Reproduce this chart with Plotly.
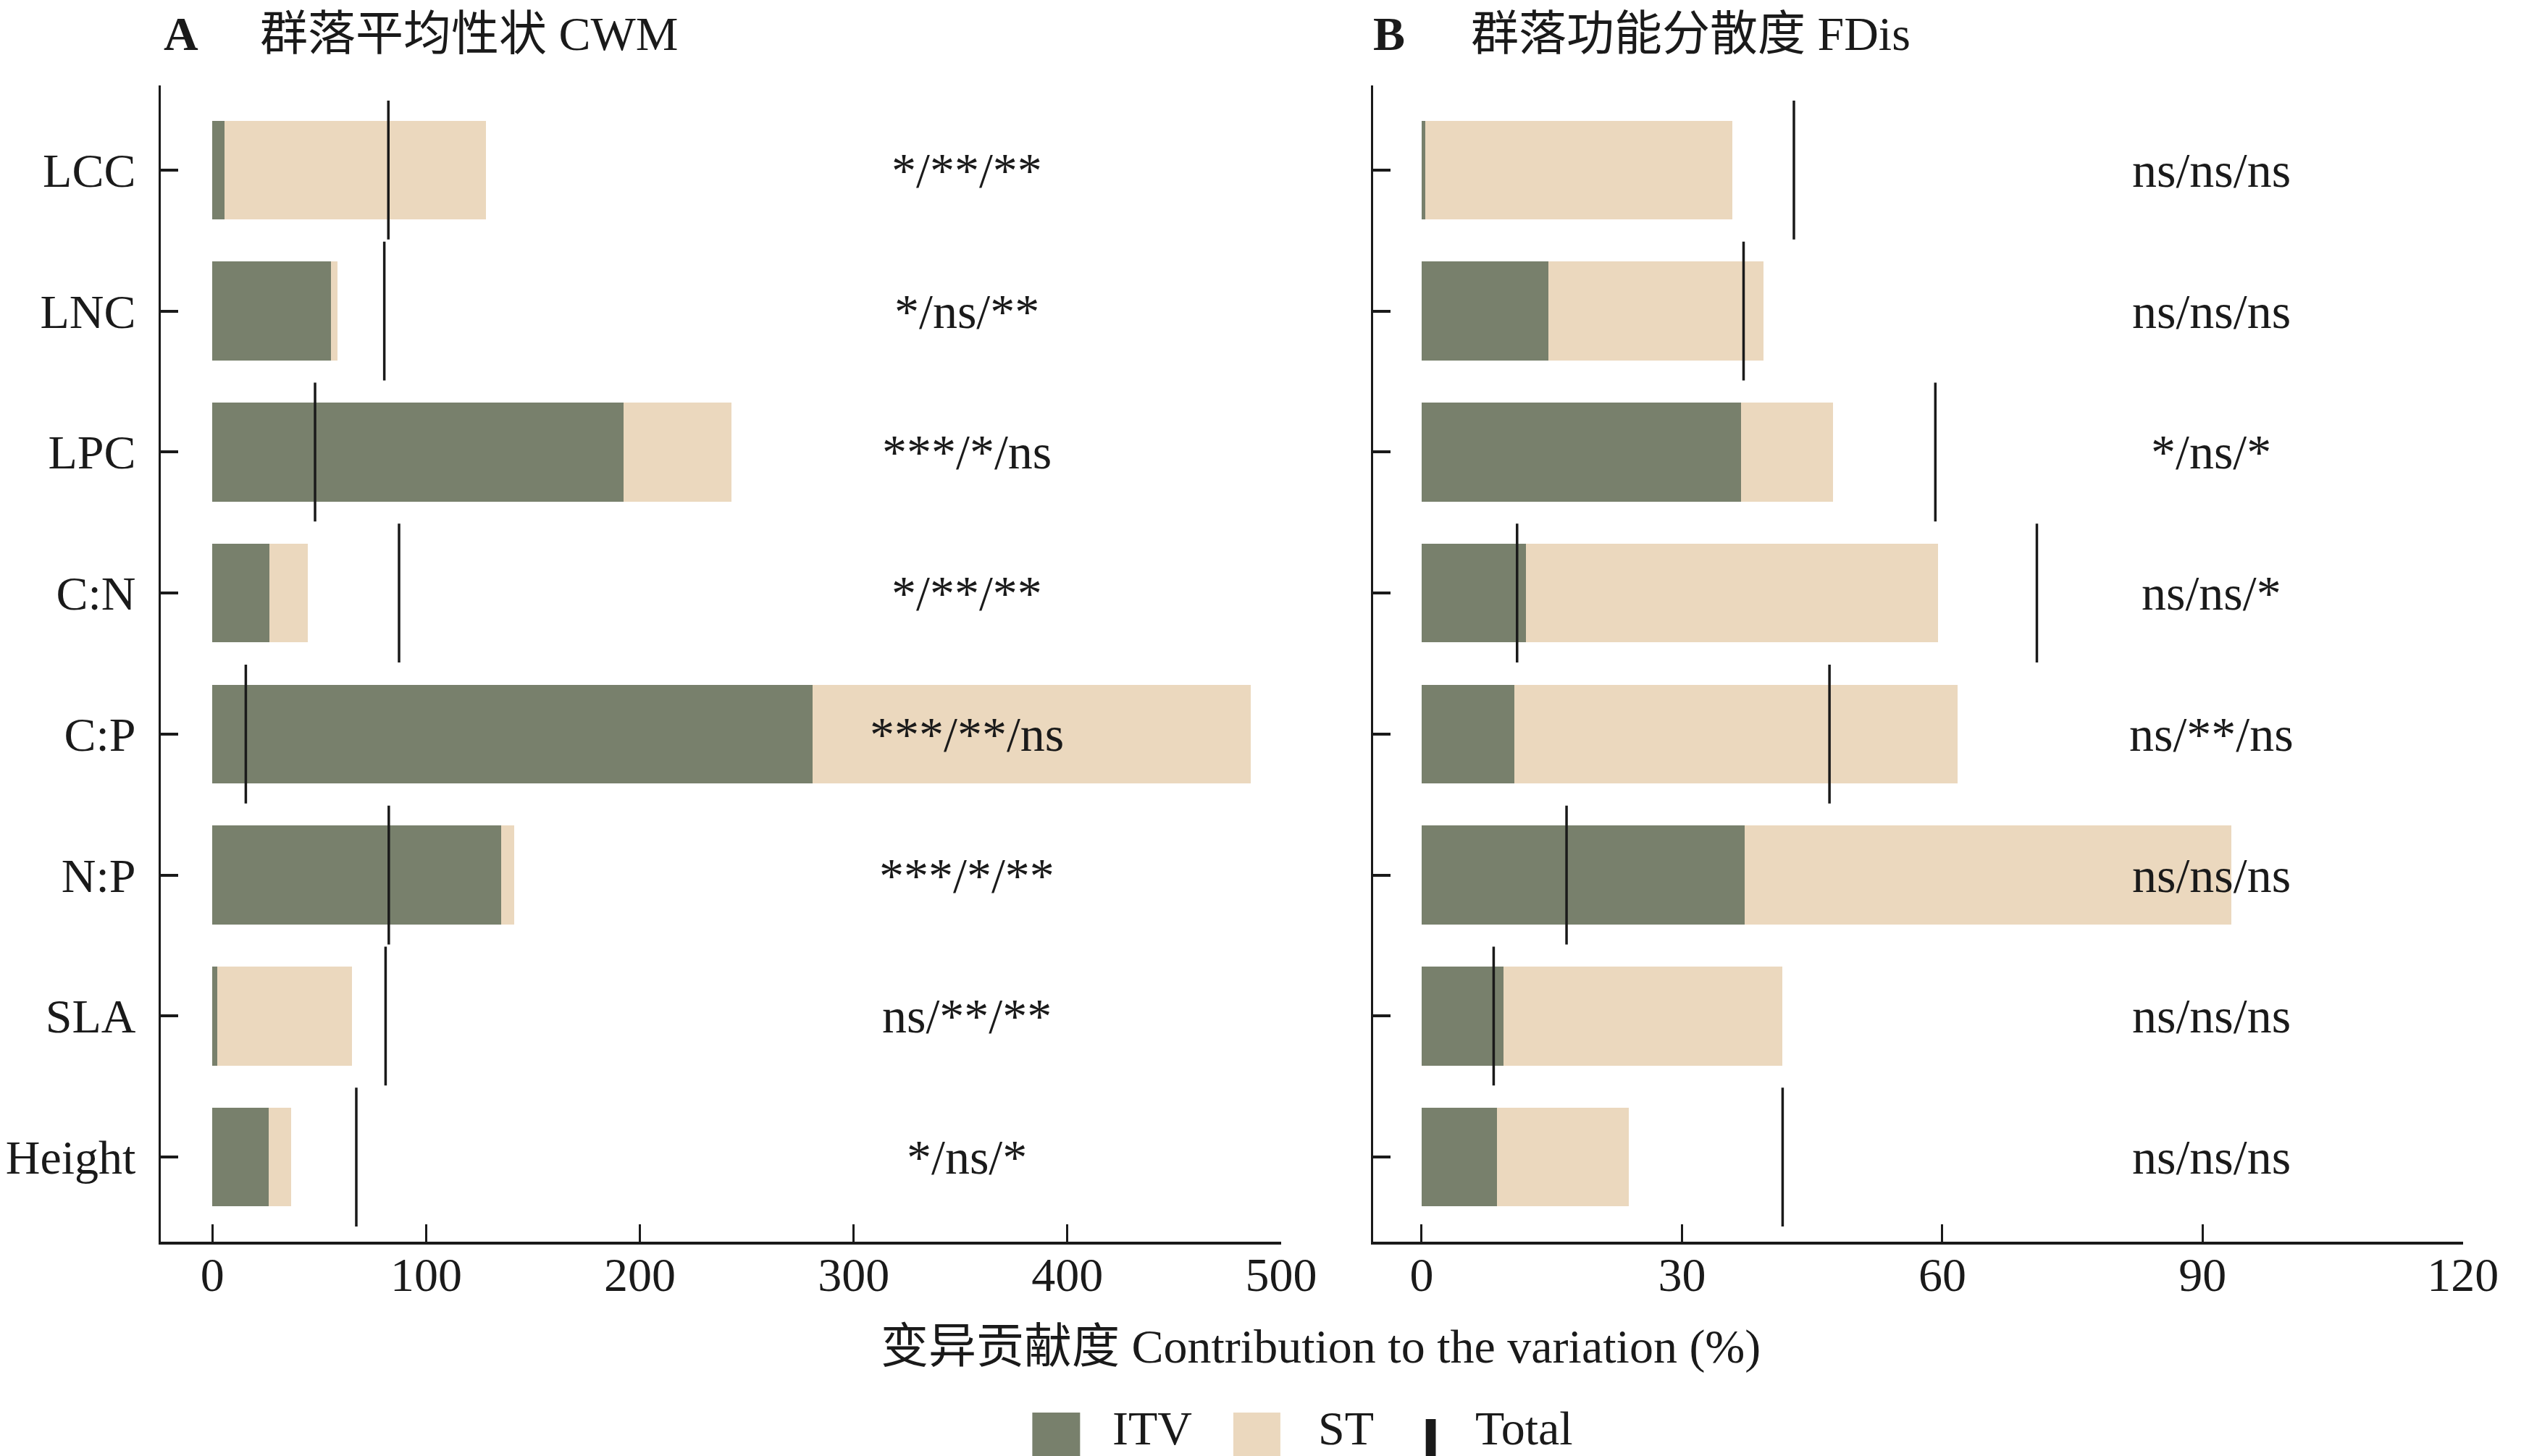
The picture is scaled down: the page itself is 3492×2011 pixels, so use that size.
import plotly.graph_objects as go

# trait order top -> bottom
traits = ["LCC", "LNC", "LPC", "C:N", "C:P", "N:P", "SLA", "Height"]

# panel A: community weighted mean (CWM)
cwm_itv = [5.6, 55.3, 192.4, 26.7, 280.8, 135.2, 2.2, 26.2]
cwm_st = [122.4, 3.1, 50.6, 17.8, 205.1, 6.0, 63.2, 10.5]
cwm_total = [82.3, 80.4, 48.0, 87.3, 15.6, 82.5, 81.0, 67.3]
cwm_sig = ["*/**/**", "*/ns/**", "***/*/ns", "*/**/**", "***/**/ns", "***/*/**", "ns/**/**", "*/ns/*"]

# panel B: functional dispersion (FDis)
fdis_itv = [0.4, 14.6, 36.8, 12.0, 10.7, 37.2, 9.4, 8.7]
fdis_st = [35.4, 24.8, 10.6, 47.5, 51.1, 56.1, 32.2, 15.2]
fdis_total_traits = ["LCC", "LNC", "LPC", "C:N", "C:N", "C:P", "N:P", "SLA", "Height"]
fdis_total = [42.9, 37.1, 59.2, 11.0, 70.9, 47.0, 16.7, 8.3, 41.6]
fdis_sig = ["ns/ns/ns", "ns/ns/ns", "*/ns/*", "ns/ns/*", "ns/**/ns", "ns/ns/ns", "ns/ns/ns", "ns/ns/ns"]

x_ticks_a = [0, 100, 200, 300, 400, 500]
x_ticks_b = [0, 30, 60, 90, 120]

GREEN = "#78806c"
BEIGE = "#ebd8be"
INK = "#1a1a1a"
FONT = "Liberation Serif, Noto Sans CJK SC, serif"
W, H = 3492, 2011

fig = go.Figure()

panels = [
    ("x", "y", cwm_itv, cwm_st, traits, cwm_total),
    ("x2", "y2", fdis_itv, fdis_st, fdis_total_traits, fdis_total),
]
for xa, ya, itv, st, tot_y, tot in panels:
    fig.add_trace(go.Bar(y=traits, x=itv, orientation="h", marker=dict(color=GREEN, line_width=0),
                         width=0.7, xaxis=xa, yaxis=ya, name="ITV", showlegend=False))
    fig.add_trace(go.Bar(y=traits, x=st, orientation="h", marker=dict(color=BEIGE, line_width=0),
                         width=0.7, xaxis=xa, yaxis=ya, name="ST", showlegend=False))
    fig.add_trace(go.Scatter(y=tot_y, x=tot, mode="markers", xaxis=xa, yaxis=ya, name="Total",
                             marker=dict(symbol="line-ns", size=137, line=dict(width=3.5, color=INK)),
                             showlegend=False, cliponaxis=False))

# significance labels
for t, s in zip(traits, cwm_sig):
    fig.add_annotation(x=353, y=t, xref="x", yref="y", text=s, showarrow=False,
                       font=dict(size=68, color=INK, family=FONT))
for t, s in zip(traits, fdis_sig):
    fig.add_annotation(x=91, y=t, xref="x2", yref="y2", text=s, showarrow=False,
                       font=dict(size=68, color=INK, family=FONT))

ydom = [1 - 1707 / H, 1 - 110 / H]
cat_order = traits[::-1]
common_x = dict(showline=True, linewidth=4, linecolor=INK, ticks="inside", ticklen=24, tickwidth=2.5,
                tickcolor=INK, showgrid=False, zeroline=False, ticklabelstandoff=-15,
                tickfont=dict(size=66, color=INK, family=FONT))
common_y = dict(showline=True, linewidth=3, linecolor=INK, ticks="inside", ticklen=24, tickwidth=4,
                tickcolor=INK, showgrid=False, zeroline=False, categoryorder="array",
                categoryarray=cat_order, range=[-0.6, 7.6], domain=ydom,
                tickfont=dict(size=66, color=INK, family=FONT))

fig.update_layout(
    width=W, height=H, autosize=False, barmode="stack",
    margin=dict(l=0, r=0, t=0, b=0),
    paper_bgcolor="white", plot_bgcolor="white",
    font=dict(family=FONT, color=INK, size=66),
    xaxis=dict(common_x, domain=[212 / W, 1784 / W], range=[-24.3, 500], tickvals=x_ticks_a, anchor="y"),
    yaxis=dict(common_y, anchor="x", ticklabelstandoff=18),
    xaxis2=dict(common_x, domain=[1913 / W, 3442 / W], range=[-5.6, 120], tickvals=x_ticks_b, anchor="y2"),
    yaxis2=dict(common_y, anchor="x2", showticklabels=False),
)

# panel titles
def ptext(x, y, s, size=66, bold=False, xanchor="left", yanchor="middle"):
    fig.add_annotation(x=x, y=y, xref="paper", yref="paper", text=f"<b>{s}</b>" if bold else s,
                       showarrow=False, xanchor=xanchor, yanchor=yanchor,
                       font=dict(size=size, color=INK, family=FONT))

ptext(214 / W, 1, "A", bold=True, yanchor="top")
ptext(350 / W, 1, "群落平均性状 CWM", yanchor="top")
ptext(1911 / W, 1, "B", bold=True, yanchor="top")
ptext(2048 / W, 1, "群落功能分散度 FDis", yanchor="top")

# shared x-axis title
ptext(1839 / W, 1 - 1852 / H, "变异贡献度 Contribution to the variation (%)", xanchor="center")

# legend drawn by hand
for x0, x1, col in [(1435, 1502, GREEN), (1717, 1783, BEIGE)]:
    fig.add_shape(type="rect", xref="paper", yref="paper", x0=x0 / W, x1=x1 / W,
                  y0=0, y1=1 - 1943 / H, fillcolor=col, line_width=0)
fig.add_shape(type="rect", xref="paper", yref="paper", x0=1987 / W, x1=2001 / W,
              y0=1 - 2005 / H, y1=1 - 1952 / H, fillcolor=INK, line_width=0)
ptext(1545 / W, 1 - 1964 / H, "ITV")
ptext(1834 / W, 1 - 1964 / H, "ST")
ptext(2054 / W, 1 - 1964 / H, "Total")

fig.write_html("out.html")
